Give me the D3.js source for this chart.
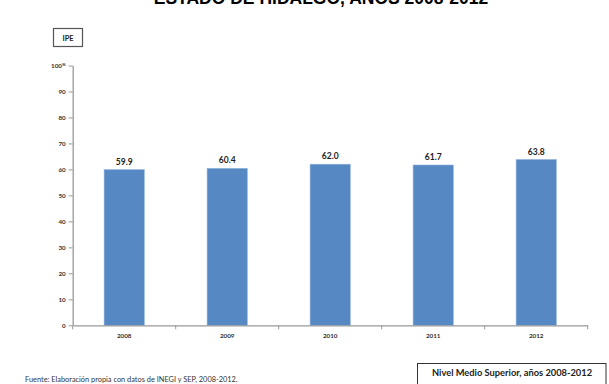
<!DOCTYPE html>
<html><head><meta charset="utf-8">
<script src="https://cdn.jsdelivr.net/npm/d3@7"></script>
<style>body{margin:0;background:#fff}svg{display:block}</style>
</head><body>
<svg id="c" width="609" height="384"></svg>
<script>
const categories = ["2008","2009","2010","2011","2012"];
const values = [59.9, 60.4, 62.0, 61.7, 63.8];
const yTicks = [0,10,20,30,40,50,60,70,80,90,100];
const title = "ESTADO DE HIDALGO, AÑOS 2008-2012";
const yLabel = "IPE";
const legendText = "Nivel Medio Superior, años 2008-2012";
const sourceText = "Fuente: Elaboración propia con datos de INEGI y SEP, 2008-2012.";

const svg = d3.select("#c");
const x0 = 72.7, x1 = 587.7, yTop = 65.5, yBot = 325.3;
const x = d3.scaleBand().domain(categories).range([x0, x1]).paddingInner(0.61).paddingOuter(0.305);
const y = d3.scaleLinear().domain([0, 100]).range([yBot, yTop]);

svg.append("text").attr("x", 321).attr("y", 4).attr("text-anchor", "middle")
  .attr("font-family", "Liberation Sans, Arial").attr("font-weight", "bold").attr("font-size", 17.5)
  .text(title);

// IPE box
svg.append("rect").attr("x", 53.5).attr("y", 28.5).attr("width", 29).attr("height", 18)
  .attr("fill", "#fff").attr("stroke", "#555").attr("stroke-width", 1.2);
svg.append("text").attr("x", 68).attr("y", 40.5).attr("text-anchor", "middle")
  .attr("font-family", "Lato, sans-serif").attr("font-weight", "bold").attr("font-size", 7.5).attr("fill", "#222")
  .text(yLabel);

// bars
svg.append("g").selectAll("rect").data(values).join("rect")
  .attr("x", (d, i) => x(categories[i])).attr("width", x.bandwidth())
  .attr("y", d => y(d)).attr("height", d => y(0) - y(d))
  .attr("fill", "#5689c4").attr("stroke", "#8fb0dc").attr("stroke-width", 0.6);

svg.append("g").selectAll("text").data(values).join("text")
  .attr("x", (d, i) => x(categories[i]) + x.bandwidth() / 2).attr("y", d => y(d) - 5)
  .attr("text-anchor", "middle").attr("font-family", "Lato, sans-serif").attr("font-weight", "bold")
  .attr("font-size", 8.5).attr("fill", "#222").text(d => d.toFixed(1));

// y axis
const ya = svg.append("g").attr("transform", `translate(${x0},0)`)
  .call(d3.axisLeft(y).tickValues(yTicks).tickSize(4).tickSizeOuter(0).tickFormat(d => d));
ya.select(".domain").attr("stroke", "#999").attr("stroke-width", 1.3);
ya.selectAll(".tick line").attr("stroke", "#999");
ya.selectAll(".tick text").attr("font-family", "Lato, sans-serif").attr("font-weight", "bold")
  .attr("font-size", 6.3).attr("fill", "#333").attr("x", -7);
ya.selectAll(".tick").filter(d => d === 100).select("text")
  .append("tspan").attr("font-size", 4.5).attr("dy", -2.5).text("%");

// x axis
const xa = svg.append("g").attr("transform", `translate(0,${yBot})`)
  .call(d3.axisBottom(x).tickSize(0).tickSizeOuter(0));
xa.select(".domain").attr("stroke", "#999").attr("stroke-width", 1.3);
xa.selectAll(".tick text").attr("font-family", "Lato, sans-serif").attr("font-weight", "bold")
  .attr("font-size", 6.3).attr("fill", "#333").attr("dy", "1.6em");
const bounds = categories.map(c => x(c) - x.step() * x.paddingInner() / 2).concat([x1]);
svg.append("g").selectAll("line").data(bounds).join("line")
  .attr("x1", d => d).attr("x2", d => d).attr("y1", yBot).attr("y2", yBot + 4)
  .attr("stroke", "#999");

// legend box
svg.append("rect").attr("x", 417.5).attr("y", 363.5).attr("width", 188.5).attr("height", 30)
  .attr("fill", "#fff").attr("stroke", "#333").attr("stroke-width", 1);
svg.append("text").attr("x", 512).attr("y", 376).attr("text-anchor", "middle")
  .attr("font-family", "Lato, sans-serif").attr("font-weight", "bold").attr("font-size", 9.3).attr("fill", "#222")
  .text(legendText);

svg.append("text").attr("x", 25).attr("y", 382).attr("font-family", "Lato, sans-serif")
  .attr("font-size", 7.4).attr("fill", "#333").text(sourceText);
</script>
</body></html>
